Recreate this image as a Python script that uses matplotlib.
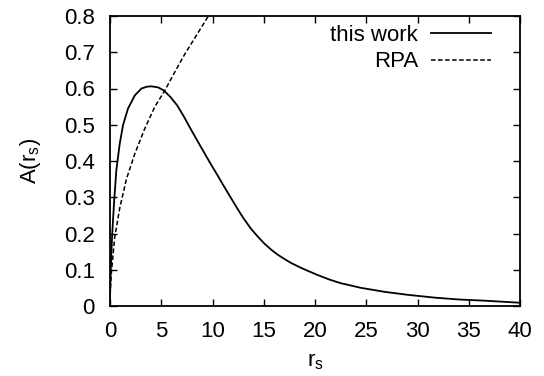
import matplotlib
matplotlib.use("Agg")
import matplotlib.pyplot as plt

plt.rcParams['font.family'] = ['Liberation Sans', 'DejaVu Sans']

# "this work" curve
rs_work = [0.0, 0.07, 0.2, 0.39, 0.62, 0.95, 1.27, 1.76, 2.42, 3.07, 3.6, 4.05, 4.7,
           5.23, 5.88, 6.54, 7.2, 7.84, 8.5, 9.15, 9.8, 10.46, 11.1, 11.76, 12.42,
           13.0, 13.73, 14.4, 15.03, 15.7, 16.34, 17.0, 17.65, 18.5, 19.3, 20.3,
           21.4, 22.5, 24.5, 26.8, 29.0, 31.7, 34.0, 36.6, 40.0]
A_work = [0.02, 0.1, 0.19, 0.283, 0.375, 0.448, 0.499, 0.545, 0.581, 0.600, 0.605, 0.606, 0.603,
          0.595, 0.577, 0.554, 0.523, 0.49, 0.457, 0.425, 0.393, 0.362, 0.331, 0.30, 0.269,
          0.243, 0.214, 0.192, 0.173, 0.156, 0.142, 0.130, 0.119, 0.107, 0.097, 0.085,
          0.073, 0.063, 0.050, 0.039, 0.031, 0.023, 0.018, 0.0146, 0.009]

# RPA curve
rs_rpa = [0.0, 0.13, 0.46, 0.95, 1.6, 2.42, 3.4, 4.38, 5.36, 6.37, 7.3, 8.33, 9.6, 10.2]
A_rpa = [0.03, 0.09, 0.19, 0.27, 0.35, 0.42, 0.49, 0.55, 0.595, 0.648, 0.695, 0.742, 0.8, 0.825]

x_ticks = [0, 5, 10, 15, 20, 25, 30, 35, 40]
y_ticks = [0, 0.1, 0.2, 0.3, 0.4, 0.5, 0.6, 0.7, 0.8]
y_tick_labels = ['0', '0.1', '0.2', '0.3', '0.4', '0.5', '0.6', '0.7', '0.8']

fig = plt.figure(figsize=(5.44, 3.76), dpi=100)
ax = fig.add_axes([110/544, 70/376, 410/544, 290/376])

ax.plot(rs_work, A_work, color='black', lw=1.3, label='this work')
ax.plot(rs_rpa, A_rpa, color='black', lw=1.1, dashes=(3, 1.6), label='RPA')

ax.set_xlim(0, 40)
ax.set_ylim(0, 0.8)
ax.set_xticks(x_ticks)
ax.set_xticklabels([str(t) for t in x_ticks])
ax.set_yticks(y_ticks)
ax.set_yticklabels(y_tick_labels)
ax.tick_params(direction='in', top=True, right=True, length=5, width=1,
               labelsize=16)
ax.tick_params(axis='y', pad=11)
ax.tick_params(axis='x', pad=11)
for s in ax.spines.values():
    s.set_linewidth(1.3)

ax.set_xlabel(r'r$_\mathregular{s}$', fontsize=16, labelpad=6)
ax.set_ylabel(r'A(r$_\mathregular{s}$)', fontsize=16, labelpad=15)

ax.legend(loc='upper right', frameon=False, markerfirst=False, fontsize=16,
          handlelength=2.7, handletextpad=0.6, labelspacing=0.25,
          borderaxespad=0.0, bbox_to_anchor=(0.952, 1.0))

fig.savefig('out.png', dpi=100)
